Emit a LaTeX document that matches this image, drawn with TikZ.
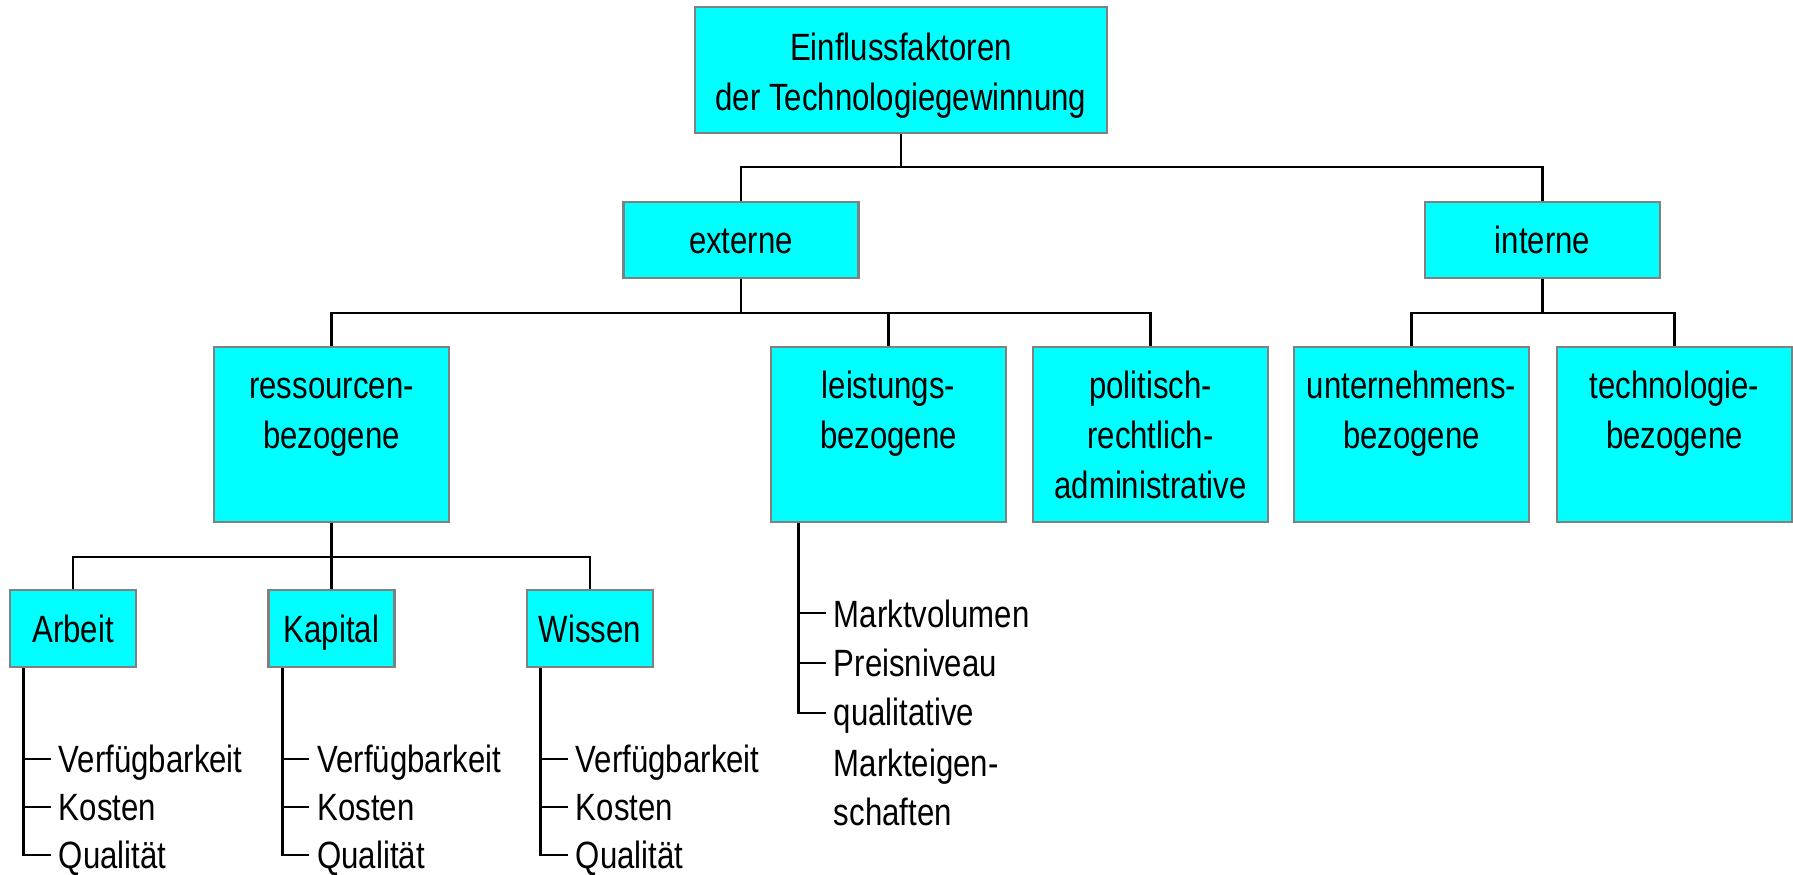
\documentclass[tikz,border=0pt]{standalone}
\usepackage{fontspec}
\setmainfont{Liberation Sans}[FakeStretch=0.82]
\definecolor{boxcyan}{RGB}{0,255,255}
\definecolor{boxgray}{RGB}{128,128,128}
\tikzset{
  fnt/.style={font=\fontsize{38}{50}\selectfont},
  box/.style={draw=boxgray, line width=2.6pt, fill=boxcyan, rectangle, inner sep=0pt, fnt,
              text height=28pt, text depth=1pt},
  bigbox/.style={box, minimum width=235pt, minimum height=175pt},
  midbox/.style={box, minimum width=235pt, minimum height=76pt},
  smallbox/.style={box, minimum width=126pt, minimum height=77pt},
  boxtxt/.style={fnt, inner sep=0pt, align=center, anchor=north},
  item/.style={fnt, inner sep=0pt, anchor=base west},
  conn/.style={draw=black, line width=2.6pt},
}
\begin{document}
\begin{tikzpicture}[x=1pt,y=1pt]
\useasboundingbox (0,0) rectangle (1793,-875);

% boxes
\node[box, minimum width=412pt, minimum height=126pt] (top) at (901,-70) {};
\node[boxtxt] (ttop) at (901,-25) {\strut Einflussfaktoren\\der Technologiegewinnung};

\node[midbox] (ext) at (741,-240) {externe};
\node[midbox] (int) at (1542.5,-240) {interne};

\node[bigbox] (res) at (331.5,-434.5) {};
\node[bigbox] (lei) at (888.5,-434.5) {};
\node[bigbox] (pol) at (1150.5,-434.5) {};
\node[bigbox] (unt) at (1411.5,-434.5) {};
\node[bigbox] (tec) at (1674.5,-434.5) {};
\node[boxtxt] (tres) at (res.north |- 0,-363) {\strut ressourcen-\\bezogene};
\node[boxtxt] (tlei) at (lei.north |- 0,-363) {\strut leistungs-\\bezogene};
\node[boxtxt] (tpol) at (pol.north |- 0,-363) {\strut politisch-\\rechtlich-\\administrative};
\node[boxtxt] (tunt) at (unt.north |- 0,-363) {\strut unternehmens-\\bezogene};
\node[boxtxt] (ttec) at (tec.north |- 0,-363) {\strut technologie-\\bezogene};

\node[smallbox] (arb) at (73,-628.5) {Arbeit};
\node[smallbox] (kap) at (331.5,-628.5) {Kapital};
\node[smallbox] (wis) at (590,-628.5) {Wissen};

% tree connectors
\coordinate (j0) at (901,-167);
\draw[conn] (top.south) -- (j0);
\draw[conn] (ext.north) |- (j0) -| (int.north);

\coordinate (j1) at (741,-313);
\draw[conn] (ext.south) -- (j1);
\draw[conn] (res.north) |- (j1) -| (pol.north);
\draw[conn] (lei.north) |- (j1);

\coordinate (j2) at (1542.5,-313);
\draw[conn] (int.south) -- (j2);
\draw[conn] (unt.north) |- (j2) -| (tec.north);

\coordinate (j3) at (331.5,-557);
\draw[conn] (res.south) -- (j3);
\draw[conn] (arb.north) |- (j3) -| (wis.north);
\draw[conn] (kap.north) |- (j3);

% resource sub-lists
\foreach \b in {arb,kap,wis}{
  \coordinate (\b-s) at ([xshift=15pt]\b.south west);
  \node[item] (\b-1) at ([xshift=50pt]\b.south west |- 0,-772) {Verfügbarkeit};
  \node[item] (\b-2) at ([xshift=50pt]\b.south west |- 0,-820) {Kosten};
  \node[item] (\b-3) at ([xshift=50pt]\b.south west |- 0,-868) {Qualität};
  \coordinate (\b-t1) at ([xshift=15pt]\b.south west |- 0,-759);
  \coordinate (\b-t2) at ([xshift=15pt]\b.south west |- 0,-807);
  \coordinate (\b-t3) at ([xshift=15pt]\b.south west |- 0,-855);
  \draw[conn] (\b-s) -- (\b-t3) -- ++(27,0);
  \draw[conn] (\b-t1) -- ++(27,0);
  \draw[conn] (\b-t2) -- ++(27,0);
}

% leistungs sub-list
\coordinate (lei-s) at ([xshift=29pt]lei.south west);
\node[item] (lei-1) at ([xshift=64pt]lei.south west |- 0,-627) {Marktvolumen};
\node[item] (lei-2) at ([xshift=64pt]lei.south west |- 0,-676) {Preisniveau};
\node[item] (lei-3) at ([xshift=64pt]lei.south west |- 0,-725) {qualitative};
\node[item] (lei-4) at ([xshift=64pt]lei.south west |- 0,-776) {Markteigen-};
\node[item] (lei-5) at ([xshift=64pt]lei.south west |- 0,-825) {schaften};
\coordinate (lei-t1) at (lei-s |- 0,-613);
\coordinate (lei-t2) at (lei-s |- 0,-663);
\coordinate (lei-t3) at (lei-s |- 0,-713);
\draw[conn] (lei-s) -- (lei-t3) -- ++(27,0);
\draw[conn] (lei-t1) -- ++(27,0);
\draw[conn] (lei-t2) -- ++(27,0);
\end{tikzpicture}
\end{document}
